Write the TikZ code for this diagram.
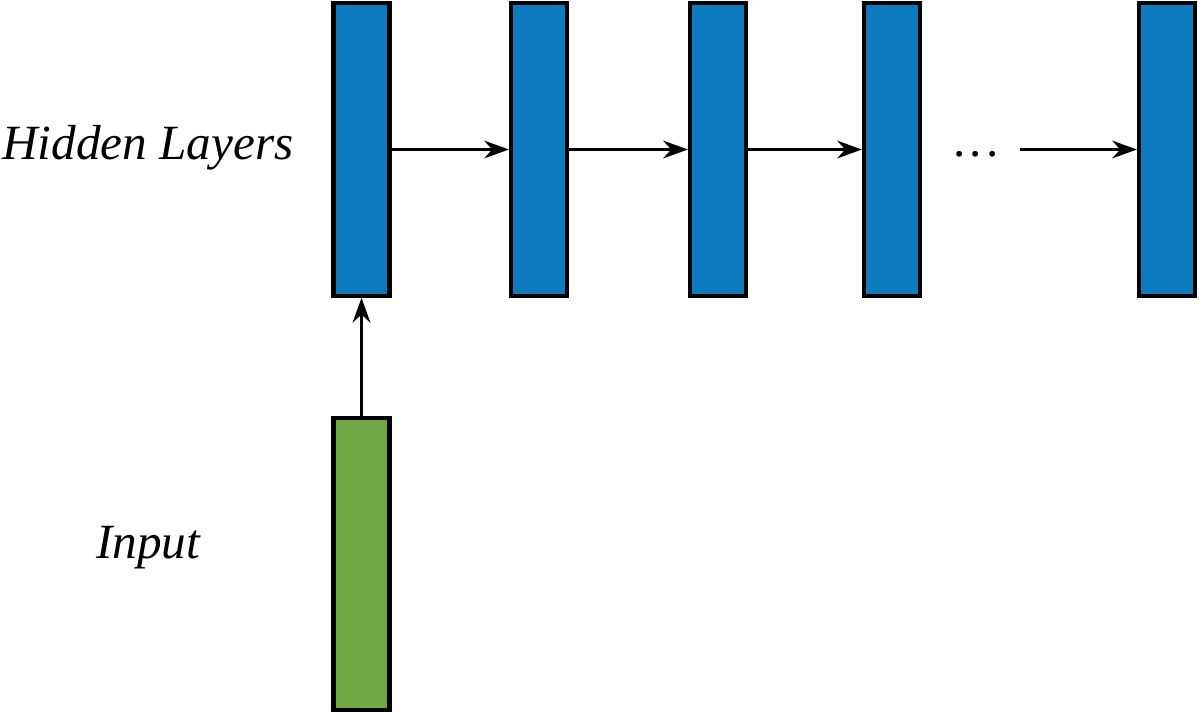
\documentclass[tikz,border=0pt]{standalone}
\usepackage{fontspec}
\setmainfont{Liberation Serif}[ItalicFont={Liberation Serif Italic}]
\usetikzlibrary{arrows.meta, positioning}
\definecolor{LayerBlue}{RGB}{14, 123, 191}
\definecolor{InputGreen}{RGB}{112, 168, 69}

\begin{document}
\begin{tikzpicture}[
  every node/.style={font=\fontsize{28}{33}\selectfont\itshape},
  layer/.style={draw=black, line width=2.4pt, fill=LayerBlue,
                minimum width=1.12cm, minimum height=5.85cm, inner sep=0pt},
  inputbox/.style={layer, fill=InputGreen},
  arr/.style={-{Stealth[length=14pt, width=10pt]}, line width=2.1pt, draw=black}
]
  \useasboundingbox (0,0) rectangle (23.98,-14.28);

  %% Nodes
  \node[layer]    (h1)  at ( 7.23, -2.99) {};
  \node[layer]    (h2)  at (10.78, -2.99) {};
  \node[layer]    (h3)  at (14.36, -2.99) {};
  \node[layer]    (h4)  at (17.84, -2.99) {};
  \node[layer]    (h5)  at (23.34, -2.99) {};
  \node[inputbox] (in)  at ( 7.23,-11.28) {};

  \node[anchor=base, font=\fontsize{28}{33}\selectfont] (dots) at (19.52, -3.12)
    {.\kern2.3pt.\kern2.3pt.};
  \coordinate (gap) at (20.40, -2.99);

  %% Arrows
  \draw[arr] (in)  -- (h1);
  \draw[arr] (h1)  -- (h2);
  \draw[arr] (h2)  -- (h3);
  \draw[arr] (h3)  -- (h4);
  \draw[arr] (gap) -- (h5);

  %% Labels
  \node (hidlabel) at (2.96, -2.96) {Hidden Layers};
  \node (inlabel)  at (2.96,-10.96) {Input};
\end{tikzpicture}
\end{document}
